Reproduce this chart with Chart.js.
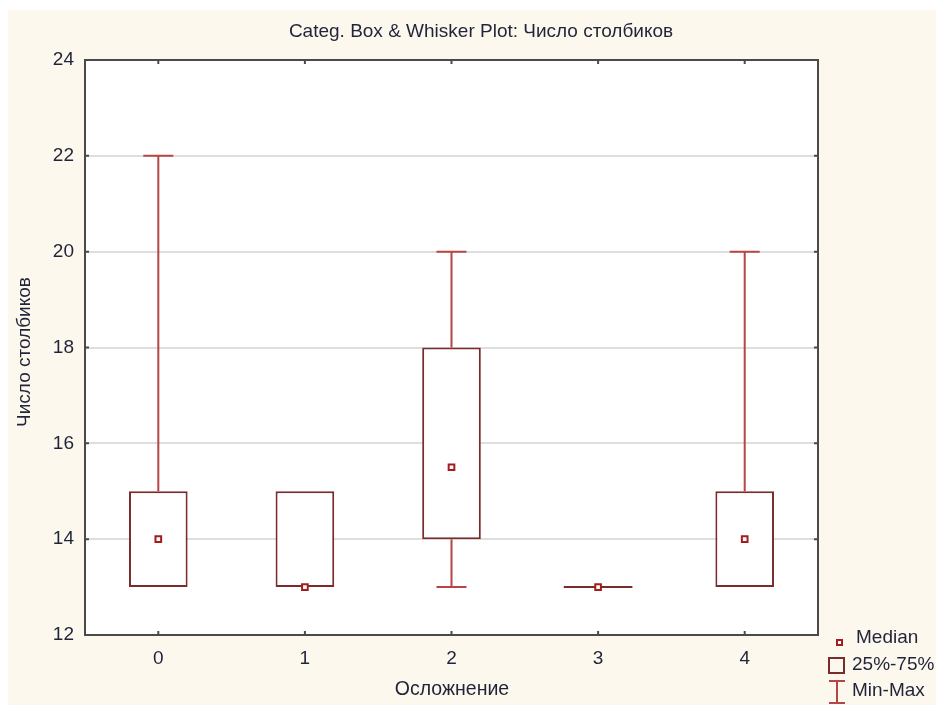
<!DOCTYPE html>
<html>
<head>
<meta charset="utf-8">
<title>Categ. Box & Whisker Plot</title>
<script src="https://cdn.jsdelivr.net/npm/chart.js@4.4.1/dist/chart.umd.min.js"></script>
<style>
  html, body { margin: 0; padding: 0; background: #fff; }
  #wrap { width: 936px; height: 707px; }
</style>
</head>
<body>
<div id="wrap"><canvas id="chart" width="936" height="707"></canvas></div>
<script>
// box & whisker statistics per category
const categories = ['0', '1', '2', '3', '4'];
const minValues = [13, 13, 13, 13, 13];
const q1Values = [13, 13, 14, 13, 13];
const medianValues = [14, 13, 15.5, 13, 14];
const q3Values = [15, 15, 18, 13, 15];
const maxValues = [22, 15, 20, 13, 20];
const yTicks = [12, 14, 16, 18, 20, 22, 24];

const titleText = 'Categ. Box & Whisker Plot: Число столбиков';
const xTitle = 'Осложнение';
const yTitle = 'Число столбиков';
const legendLabels = ['Median', '25%-75%', 'Min-Max'];

const FONT = '"Liberation Sans", Arial, sans-serif';
const textColor = '#1f2438';
const boxColor = '#7a2c2c';
const whiskerColor = '#b84545';
const medianColor = '#a31d1d';
const cream = '#fdf8ee';

// backgrounds, whiskers, frame, inner ticks, titles and legend
const decor = {
    id: 'decor',
    beforeDraw(chart) {
        const ctx = chart.ctx;
        const a = chart.chartArea;
        ctx.save();
        ctx.fillStyle = cream;
        ctx.fillRect(8, 10, chart.width - 8, chart.height - 12);
        ctx.fillStyle = '#fff';
        ctx.fillRect(a.left, a.top, a.right - a.left, a.bottom - a.top);
        ctx.restore();
    },
    beforeDatasetsDraw(chart) {
        const ctx = chart.ctx;
        const x = chart.scales.x, y = chart.scales.y;
        const bars = chart.getDatasetMeta(0).data;
        ctx.save();
        ctx.lineWidth = 2;
        ctx.strokeStyle = whiskerColor;
        categories.forEach((c, i) => {
            const px = x.getPixelForValue(i);
            const cap = 30;
            if (maxValues[i] > q3Values[i]) {
                ctx.beginPath();
                ctx.moveTo(px, y.getPixelForValue(maxValues[i]));
                ctx.lineTo(px, y.getPixelForValue(q3Values[i]));
                ctx.moveTo(px - cap / 2, y.getPixelForValue(maxValues[i]));
                ctx.lineTo(px + cap / 2, y.getPixelForValue(maxValues[i]));
                ctx.stroke();
            }
            if (minValues[i] < q1Values[i]) {
                ctx.beginPath();
                ctx.moveTo(px, y.getPixelForValue(q1Values[i]));
                ctx.lineTo(px, y.getPixelForValue(minValues[i]));
                ctx.moveTo(px - cap / 2, y.getPixelForValue(minValues[i]));
                ctx.lineTo(px + cap / 2, y.getPixelForValue(minValues[i]));
                ctx.stroke();
            }
            // flat box (q1 == q3) collapses to a line
            if (q1Values[i] === q3Values[i]) {
                const w = bars[i].width;
                const py = y.getPixelForValue(q1Values[i]);
                ctx.strokeStyle = boxColor;
                ctx.beginPath();
                ctx.moveTo(px - w / 2 - 5, py);
                ctx.lineTo(px + w / 2 + 5, py);
                ctx.stroke();
                ctx.strokeStyle = whiskerColor;
            }
        });
        ctx.restore();
    },
    afterDraw(chart) {
        const ctx = chart.ctx;
        const a = chart.chartArea;
        const x = chart.scales.x, y = chart.scales.y;
        ctx.save();
        // frame
        ctx.strokeStyle = '#4a4a4a';
        ctx.lineWidth = 2;
        ctx.strokeRect(a.left, a.top, a.right - a.left, a.bottom - a.top);
        // inner ticks
        ctx.lineWidth = 2;
        ctx.beginPath();
        categories.forEach((c, i) => {
            const px = x.getPixelForValue(i);
            ctx.moveTo(px, a.bottom); ctx.lineTo(px, a.bottom - 4);
            ctx.moveTo(px, a.top); ctx.lineTo(px, a.top + 4);
        });
        yTicks.forEach(v => {
            const py = y.getPixelForValue(v);
            ctx.moveTo(a.left, py); ctx.lineTo(a.left + 4, py);
            ctx.moveTo(a.right, py); ctx.lineTo(a.right - 4, py);
        });
        ctx.stroke();

        // titles
        ctx.fillStyle = textColor;
        ctx.font = '19px ' + FONT;
        ctx.textAlign = 'center';
        ctx.textBaseline = 'middle';
        ctx.fillText(titleText, 481, 32);
        ctx.font = '19.5px ' + FONT;
        ctx.fillText(xTitle, 452, 690);
        ctx.save();
        ctx.translate(25, 352);
        ctx.rotate(-Math.PI / 2);
        ctx.font = '19px ' + FONT;
        ctx.fillText(yTitle, 0, 0);
        ctx.restore();

        // legend
        ctx.font = '19px ' + FONT;
        ctx.textAlign = 'left';
        ctx.fillText(legendLabels[0], 856, 638);
        ctx.fillText(legendLabels[1], 852, 665);
        ctx.fillText(legendLabels[2], 852, 691);
        ctx.lineWidth = 2;
        ctx.strokeStyle = medianColor;
        ctx.fillStyle = '#fff';
        ctx.fillRect(837, 640, 5, 5);
        ctx.strokeRect(837, 640, 5, 5);
        ctx.strokeStyle = boxColor;
        ctx.strokeRect(829, 658, 15, 15);
        ctx.strokeStyle = whiskerColor;
        ctx.beginPath();
        ctx.moveTo(829, 681); ctx.lineTo(845, 681);
        ctx.moveTo(837, 681); ctx.lineTo(837, 703);
        ctx.moveTo(829, 703); ctx.lineTo(845, 703);
        ctx.stroke();
        ctx.restore();
    }
};

new Chart(document.getElementById('chart'), {
    data: {
        labels: categories,
        datasets: [{
            type: 'bar',
            data: categories.map((c, i) => [q1Values[i], q3Values[i]]),
            backgroundColor: '#fff',
            borderColor: boxColor,
            borderWidth: 2,
            borderSkipped: false,
            categoryPercentage: 1,
            barPercentage: 0.4,
            order: 2
        }, {
            type: 'line',
            data: medianValues,
            showLine: false,
            pointStyle: 'rect',
            pointRadius: 4,
            pointBackgroundColor: '#fff',
            pointBorderColor: medianColor,
            pointBorderWidth: 2,
            order: 1
        }]
    },
    options: {
        responsive: false,
        animation: false,
        layout: { padding: { top: 60, right: 118, left: 0, bottom: 0 } },
        plugins: { legend: { display: false }, tooltip: { enabled: false } },
        scales: {
            x: {
                offset: true,
                grid: { display: false, drawTicks: false },
                border: { display: false },
                ticks: { color: textColor, font: { family: FONT, size: 19 }, padding: 12 },
                afterFit(s) { s.height = 72; }
            },
            y: {
                min: 12,
                max: 24,
                afterBuildTicks(s) { s.ticks = yTicks.map(v => ({ value: v })); },
                grid: { color: '#dedede', lineWidth: 2, drawTicks: false },
                border: { display: false },
                ticks: { color: textColor, font: { family: FONT, size: 19 }, padding: 11 },
                afterFit(s) { s.width = 85; }
            }
        }
    },
    plugins: [decor]
});
</script>
</body>
</html>
